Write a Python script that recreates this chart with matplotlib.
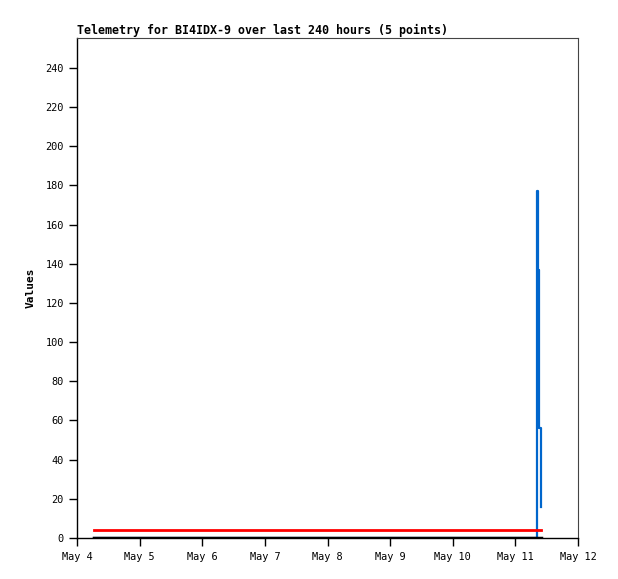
import numpy as np
import pandas as pd
import matplotlib
matplotlib.use("Agg")
import matplotlib.pyplot as plt
import matplotlib.dates as mdates

plt.rcParams['font.family'] = ['DejaVu Sans Mono']

# sample times (5 points)
times = pd.to_datetime(["2024-05-04 06:30", "2024-05-11 08:27", "2024-05-11 08:50",
                        "2024-05-11 09:13", "2024-05-11 09:45"])
blue_vals = [0, 177, 137, 56, 16]
red_vals = [4, 4, 4, 4, 4]
black_vals = [0, 0, 0, 0, 0]

x_ticks = pd.date_range("2024-05-04", "2024-05-12", freq="D")
y_ticks = list(range(0, 241, 20))

fig = plt.figure(figsize=(6.18, 5.79), dpi=100)
ax = fig.add_axes([77 / 618, 1 - 538 / 579, 501 / 618, 500 / 579])

ax.plot(times, blue_vals, color="#0066cc", lw=1.6, drawstyle="steps-post", zorder=2)
ax.plot(times, red_vals, color="#ff0000", lw=2, zorder=3)
ax.plot(times, black_vals, color="black", lw=2.5, zorder=4)

ax.set_xlim(x_ticks[0], x_ticks[-1])
ax.set_ylim(0, 255.3)
ax.set_xticks(x_ticks)
ax.xaxis.set_major_formatter(mdates.DateFormatter("%b %-d"))
ax.set_yticks(y_ticks)
ax.tick_params(direction="out", length=6, width=1, labelsize=7.4, colors="black")
ax.tick_params(axis="x", pad=4)

for s in ["top", "right"]:
    ax.spines[s].set_color("#444444")
    ax.spines[s].set_linewidth(0.8)
for s in ["left", "bottom"]:
    ax.spines[s].set_color("black")
    ax.spines[s].set_linewidth(1)

ax.set_ylabel("Values", fontsize=8, fontweight="bold", labelpad=7)
ax.set_title("Telemetry for BI4IDX-9 over last 240 hours (5 points)",
             fontsize=8.4, fontweight="bold", loc="left", pad=3)

fig.savefig("out.png", dpi=100)
